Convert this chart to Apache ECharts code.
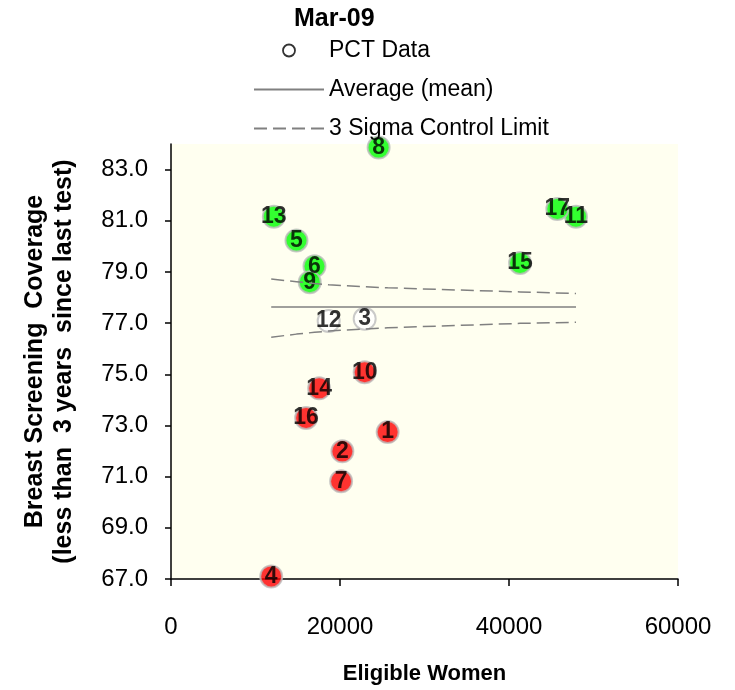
<!DOCTYPE html>
<html>
<head>
<meta charset="utf-8">
<script src="https://cdn.jsdelivr.net/npm/echarts@6/dist/echarts.min.js"></script>
<style>html,body{margin:0;padding:0;background:#fff}#c{width:735px;height:690px}</style>
</head>
<body>
<div id="c"></div>
<script>
// ---- data ----
const pctIds      = [1, 2, 3, 4, 5, 6, 7, 8, 9, 10, 11, 12, 13, 14, 15, 16, 17];
const eligible    = [25640, 20280, 22920, 11860, 14850, 16980, 20130, 24570, 16420, 22920, 47930, 18660, 12170, 17530, 41310, 15990, 45720];
const coverage    = [72.74, 71.99, 77.17, 67.10, 80.23, 79.22, 70.82, 83.86, 78.60, 75.08, 81.16, 77.08, 81.16, 74.45, 79.35, 73.29, 81.46];
const signal      = ['below','below','within','below','above','above','below','above','above','below','above','within','above','below','above','below','above'];
const meanX       = [11860, 47930];
const meanValue   = 77.63;
const limitX      = [11860, 14850, 16980, 18660, 20280, 22920, 25640, 41310, 47930];
const upperLimit  = [78.72, 78.62, 78.55, 78.50, 78.47, 78.42, 78.38, 78.22, 78.16];
const lowerLimit  = [76.45, 76.57, 76.64, 76.69, 76.72, 76.77, 76.82, 76.99, 77.03];
const xTickStep   = 20000;
const yTickStep   = 2;

const signalColor = {above: '#00FF00', below: '#FF0000', within: '#FFFFFF'};
const FONT = '"Liberation Sans", Arial, sans-serif';
const NARROW = '"Liberation Sans Narrow", "Liberation Sans", Arial, sans-serif';

const scatterData = pctIds.map((id, i) => ({
  value: [eligible[i], coverage[i], id],
  itemStyle: {color: signalColor[signal[i]]}
}));
const meanData  = meanX.map(x => [x, meanValue]);
const upperData = limitX.map((x, i) => [x, upperLimit[i]]);
const lowerData = limitX.map((x, i) => [x, lowerLimit[i]]);

const chart = echarts.init(document.getElementById('c'), null, {renderer: 'canvas'});
chart.setOption({
  animation: false,
  textStyle: {fontFamily: FONT, color: '#000'},
  title: {
    text: 'Mar-09',
    left: 294, top: 7, padding: 0,
    textStyle: {fontFamily: FONT, fontWeight: 'bold', fontSize: 25, color: '#000'}
  },
  legend: {
    orient: 'vertical',
    left: 253, top: 39, padding: 0,
    itemWidth: 70, itemHeight: 12,
    itemGap: 16,
    align: 'left',
    textStyle: {fontFamily: FONT, fontSize: 23, color: '#000'},
    data: [
      {name: 'PCT Data', icon: 'circle', itemStyle: {color: '#FFFFFF', borderColor: '#000', borderWidth: 1.8}},
      {name: 'Average (mean)', itemStyle: {opacity: 0}},
      {name: '3 Sigma Control Limit', itemStyle: {opacity: 0}}
    ]
  },
  grid: {
    left: 171, right: 57, top: 144, bottom: 109,
    show: true, backgroundColor: '#FFFFF0', borderWidth: 0
  },
  xAxis: {
    type: 'value', min: 0, max: 60000, interval: xTickStep,
    name: 'Eligible Women', nameLocation: 'middle', nameGap: 84,
    nameTextStyle: {fontFamily: FONT, fontWeight: 'bold', fontSize: 22, color: '#000'},
    axisLine: {show: true, onZero: false, lineStyle: {color: '#000', width: 1.5}},
    axisTick: {show: true, length: 7, lineStyle: {color: '#000', width: 1.5}},
    axisLabel: {fontFamily: FONT, fontSize: 24, color: '#000', margin: 36,
      formatter: v => String(v)},
    splitLine: {show: false}
  },
  yAxis: {
    type: 'value', min: 67, max: 84, interval: yTickStep,
    name: 'Breast Screening  Coverage\n(less than  3 years  since last test)',
    nameLocation: 'middle', nameRotate: 90, nameGap: 92,
    nameTextStyle: {fontFamily: FONT, fontWeight: 'bold', fontSize: 25, lineHeight: 29, color: '#000'},
    axisLine: {show: true, onZero: false, lineStyle: {color: '#000', width: 1.5}},
    axisTick: {show: true, length: 6, lineStyle: {color: '#000', width: 1.5}},
    axisLabel: {fontFamily: FONT, fontSize: 24, color: '#000', margin: 23, showMaxLabel: false,
      formatter: v => v.toFixed(1)},
    splitLine: {show: false}
  },
  series: [
    {
      name: 'PCT Data', type: 'scatter', data: scatterData,
      symbol: 'circle', symbolSize: 22, z: 3, clip: false,
      itemStyle: {borderColor: '#BDBDBD', borderWidth: 2},
      label: {
        show: true, position: 'inside', formatter: p => String(p.value[2]),
        fontFamily: NARROW, fontWeight: 'bold', fontSize: 23, color: '#000'
      }
    },
    {
      name: 'Average (mean)', type: 'line', data: meanData, symbol: 'none',
      itemStyle: {color: '#808080'},
      lineStyle: {color: '#808080', width: 1.5}, z: 4, silent: true
    },
    {
      name: '3 Sigma Control Limit', type: 'line', data: upperData, symbol: 'none',
      itemStyle: {color: '#808080'},
      lineStyle: {color: '#808080', width: 1.5, type: [13, 6]}, z: 4, silent: true
    },
    {
      name: '3 Sigma Control Limit', type: 'line', data: lowerData, symbol: 'none',
      itemStyle: {color: '#808080'},
      lineStyle: {color: '#808080', width: 1.5, type: [13, 6]}, z: 4, silent: true
    }
  ]
});
</script>
</body>
</html>
